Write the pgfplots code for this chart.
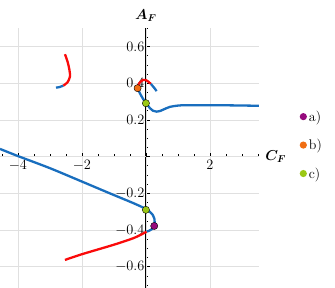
\documentclass[border=0pt]{standalone}
\usepackage{pgfplots}
\pgfplotsset{compat=1.18}
\usepackage{bm}
\definecolor{cblue}{RGB}{25,110,190}
\definecolor{cred}{RGB}{250,10,10}
\definecolor{cpurple}{RGB}{150,10,125}
\definecolor{corange}{RGB}{240,110,20}
\definecolor{cgreen}{RGB}{155,200,20}
\begin{document}
\begin{tikzpicture}
\useasboundingbox (0,0) rectangle (335bp,288bp);
\begin{axis}[
  at={(0,0)}, anchor=south west,
  x=32bp, y=183.5bp,
  xmin=-4.56, xmax=3.53, ymin=-0.716, ymax=0.70,
  axis lines=middle,
  axis line style={-, line width=0.9bp},
  font=\fontsize{14}{16}\selectfont,
  xtick={-4,-2,2},
  minor xtick={-4.5,-3.5,-3,-2.5,-1.5,-1,-0.5,0.5,1,1.5,2.5,3,3.5},
  ytick={-0.6,-0.4,-0.2,0.2,0.4,0.6},
  minor ytick={-0.7,-0.65,...,0.71},
  yticklabel style={/pgf/number format/fixed,/pgf/number format/precision=1,/pgf/number format/fixed zerofill, xshift=2bp},
  extra x ticks={0}, extra x tick labels={},
  extra y ticks={0}, extra y tick labels={},
  extra tick style={grid=major},
  grid=major,
  major grid style={black!12, line width=0.5bp},
  tick style={black, line width=0.6bp},
  major tick length=4bp, minor tick length=2.5bp,
  tick align=inside,
  xlabel={$\bm{C_F}$}, ylabel={$\bm{A_F}$},
  xlabel style={anchor=west, xshift=3bp},
  ylabel style={anchor=south, yshift=3bp},
  legend style={at={(rel axis cs:1.157,0.55)}, anchor=west, draw=none, fill=none, inner sep=0pt, row sep=12.5bp, font=\fontsize{14}{16}\selectfont},
  legend cell align=left,
]
% lower long blue branch
\addplot[cblue, line width=2.3bp, smooth, tension=0.5, forget plot] coordinates {
(-4.56,0.042) (-4.0,0.003) (-3.0,-0.063) (-2.0,-0.136) (-1.13,-0.2) (-0.4,-0.253) (0,-0.285) (0.12,-0.300) (0.21,-0.317) (0.265,-0.340) (0.275,-0.360) (0.25,-0.380) (0.19,-0.395) (0.1,-0.404) (0.02,-0.409)};
% lower red branch
\addplot[cred, line width=2.3bp, smooth, tension=0.5, forget plot] coordinates {
(0.02,-0.409) (-0.13,-0.423) (-0.4,-0.445) (-1.0,-0.48) (-2.0,-0.532) (-2.53,-0.563)};
% upper blue branch
\addplot[cblue, line width=2.3bp, smooth, tension=0.5, forget plot] coordinates {
(-0.26,0.373) (-0.1875,0.345) (-0.084,0.313) (0.0,0.294) (0.125,0.264) (0.22,0.25) (0.334,0.245) (0.45,0.249) (0.54,0.256) (0.75,0.271) (1.0,0.278) (1.27,0.28) (2.3,0.28) (3.53,0.277)};
% upper red arc
\addplot[cred, line width=2.3bp, smooth, tension=0.5, forget plot] coordinates {
(-0.26,0.375) (-0.24,0.391) (-0.16,0.410) (-0.084,0.418) (0.0,0.417) (0.072,0.409) (0.156,0.396)};
% small blue piece
\addplot[cblue, line width=2.3bp, smooth, tension=0.5, forget plot] coordinates {
(0.156,0.396) (0.228,0.381) (0.28,0.37) (0.334,0.357)};
% left hook
\addplot[cblue, line width=2.3bp, smooth, tension=0.5, forget plot] coordinates {
(-2.81,0.376) (-2.7,0.379) (-2.58,0.387)};
\addplot[cred, line width=2.3bp, smooth, tension=0.5, forget plot] coordinates {
(-2.58,0.387) (-2.45,0.405) (-2.375,0.436) (-2.39,0.472) (-2.45,0.518) (-2.53,0.558)};
% points
\addplot[only marks, mark=*, mark size=3.6bp, draw=none, fill=cpurple, legend image code/.code={\fill[cpurple] (0bp,0bp) circle (3.6bp);}] coordinates {(0.26,-0.378)};
\addlegendentry{a)}
\addplot[only marks, mark=*, mark size=3.6bp, draw=none, fill=corange, legend image code/.code={\fill[corange] (0bp,0bp) circle (3.6bp);}] coordinates {(-0.26,0.373)};
\addlegendentry{b)}
\addplot[only marks, mark=*, mark size=3.6bp, draw=none, fill=cgreen, legend image code/.code={\fill[cgreen] (0bp,0bp) circle (3.6bp);}] coordinates {(0.0,0.291) (0.0,-0.29)};
\addlegendentry{c)}
\end{axis}
\end{tikzpicture}
\end{document}
